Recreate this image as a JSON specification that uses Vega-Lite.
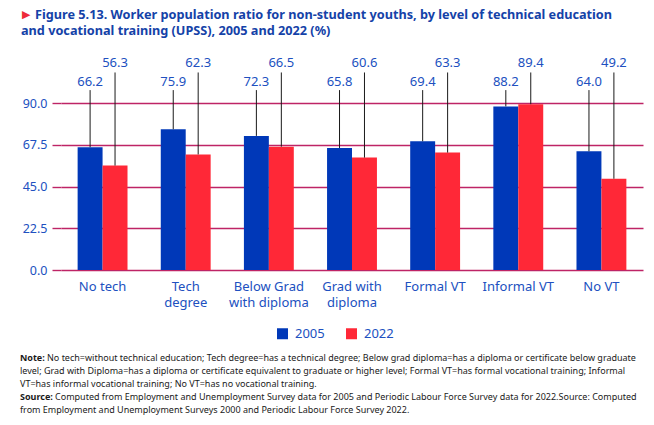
{
  "$schema": "https://vega.github.io/schema/vega-lite/v6.json",
  "padding": {"left": 20, "top": 9, "right": 5, "bottom": 5},
  "background": "white",
  "spacing": 15,
  "config": {"view": {"stroke": null}, "font": "Noto Sans"},
  "datasets": {
    "wpr": [
      {"cat": "No tech", "year": "2005", "value": 66.2},
      {"cat": "No tech", "year": "2022", "value": 56.3},
      {"cat": "Tech degree", "year": "2005", "value": 75.9},
      {"cat": "Tech degree", "year": "2022", "value": 62.3},
      {"cat": "Below Grad with diploma", "year": "2005", "value": 72.3},
      {"cat": "Below Grad with diploma", "year": "2022", "value": 66.5},
      {"cat": "Grad with diploma", "year": "2005", "value": 65.8},
      {"cat": "Grad with diploma", "year": "2022", "value": 60.6},
      {"cat": "Formal VT", "year": "2005", "value": 69.4},
      {"cat": "Formal VT", "year": "2022", "value": 63.3},
      {"cat": "Informal VT", "year": "2005", "value": 88.2},
      {"cat": "Informal VT", "year": "2022", "value": 89.4},
      {"cat": "No VT", "year": "2005", "value": 64.0},
      {"cat": "No VT", "year": "2022", "value": 49.2}
    ],
    "title": [
      {"line": 1, "text": "Figure 5.13. Worker population ratio for non-student youths, by level of technical education"},
      {"line": 2, "text": "and vocational training (UPSS), 2005 and 2022 (%)"}
    ],
    "notes": [
      {"line": 1, "lead": "Note:", "body": "No tech=without technical education; Tech degree=has a technical degree; Below grad diploma=has a diploma or certificate below graduate"},
      {"line": 2, "lead": "", "body": "level; Grad with Diploma=has a diploma or certificate equivalent to graduate or higher level; Formal VT=has formal vocational training; Informal"},
      {"line": 3, "lead": "", "body": "VT=has informal vocational training; No VT=has no vocational training."},
      {"line": 4, "lead": "Source:", "body": "Computed from Employment and Unemployment Survey data for 2005 and Periodic Labour Force Survey data for 2022.Source: Computed"},
      {"line": 5, "lead": "", "body": "from Employment and Unemployment Surveys 2000 and Periodic Labour Force Survey 2022."}
    ]
  },
  "vconcat": [
    {
      "width": 582,
      "height": 16,
      "data": {"name": "title"},
      "encoding": {
        "x": {"datum": 0, "type": "quantitative", "scale": {"domain": [0, 1]}, "axis": null},
        "y": {"field": "line", "type": "ordinal", "scale": {"type": "point", "padding": 0}, "axis": null}
      },
      "layer": [
        {
          "transform": [{"filter": "datum.line == 1"}],
          "mark": {"type": "text", "text": "▶", "font": "DejaVu Sans", "fontSize": 11, "color": "#EE2A3A", "align": "left", "baseline": "middle", "dx": -39}
        },
        {
          "transform": [{"filter": "datum.line == 1"}],
          "mark": {"type": "text", "fontSize": 12.7, "fontWeight": "bold", "color": "#1442A8", "align": "left", "baseline": "middle", "dx": -26},
          "encoding": {"text": {"field": "text", "type": "nominal"}}
        },
        {
          "transform": [{"filter": "datum.line == 2"}],
          "mark": {"type": "text", "fontSize": 12.7, "fontWeight": "bold", "color": "#1442A8", "align": "left", "baseline": "middle", "dx": -40},
          "encoding": {"text": {"field": "text", "type": "nominal"}}
        }
      ]
    },
    {
      "width": 582,
      "height": 217,
      "data": {"name": "wpr"},
      "encoding": {
        "x": {
          "field": "cat", "type": "nominal", "sort": null,
          "scale": {"paddingInner": 0.4, "paddingOuter": 0.2},
          "axis": {
            "title": null, "labelAngle": 0, "labelColor": "#2050C0", "labelFontSize": 13,
            "labelPadding": 10, "labelLineHeight": 16, "ticks": false, "domain": false,
            "labelExpr": "datum.value == 'Tech degree' ? ['Tech', 'degree'] : datum.value == 'Below Grad with diploma' ? ['Below Grad', 'with diploma'] : datum.value == 'Grad with diploma' ? ['Grad with', 'diploma'] : datum.label"
          }
        },
        "xOffset": {"field": "year", "type": "nominal", "sort": null}
      },
      "layer": [
        {
          "mark": {"type": "bar"},
          "encoding": {
            "y": {
              "field": "value", "type": "quantitative",
              "scale": {"domain": [0, 117], "nice": false},
              "axis": {
                "title": null, "values": [0, 22.5, 45, 67.5, 90], "format": ".1f",
                "grid": true, "gridColor": "#BE2466", "gridWidth": 1.4,
                "tickColor": "#BE2466", "tickSize": 9, "tickWidth": 1.4,
                "domain": false, "labelColor": "#2050C0", "labelFontSize": 12.5, "labelPadding": 5
              }
            },
            "color": {
              "field": "year", "type": "nominal",
              "scale": {"domain": ["2005", "2022"], "range": ["#0038B8", "#FF2837"]},
              "legend": {
                "title": null, "orient": "none", "legendX": 215, "legendY": 312,
                "direction": "horizontal", "symbolType": "square", "symbolSize": 121,
                "labelFontSize": 13, "labelColor": "#2050C0", "columnPadding": 20, "labelOffset": 6
              }
            }
          }
        },
        {
          "transform": [{"filter": "datum.year == '2005'"}],
          "mark": {"type": "rule", "color": "#1a1a1a", "strokeWidth": 1},
          "encoding": {"y": {"field": "value", "type": "quantitative"}, "y2": {"datum": 97}}
        },
        {
          "transform": [{"filter": "datum.year == '2022'"}],
          "mark": {"type": "rule", "color": "#1a1a1a", "strokeWidth": 1},
          "encoding": {"y": {"field": "value", "type": "quantitative"}, "y2": {"datum": 106.5}}
        },
        {
          "transform": [{"filter": "datum.year == '2005'"}],
          "mark": {"type": "text", "fontSize": 13, "color": "#2050C0", "baseline": "middle"},
          "encoding": {"y": {"datum": 101.2, "type": "quantitative"}, "text": {"field": "value", "type": "quantitative", "format": ".1f"}}
        },
        {
          "transform": [{"filter": "datum.year == '2022'"}],
          "mark": {"type": "text", "fontSize": 13, "color": "#2050C0", "baseline": "middle"},
          "encoding": {"y": {"datum": 111.8, "type": "quantitative"}, "text": {"field": "value", "type": "quantitative", "format": ".1f"}}
        }
      ]
    },
    {
      "width": 582,
      "height": 86,
      "data": {"name": "notes"},
      "encoding": {
        "x": {"datum": 0, "type": "quantitative", "scale": {"domain": [0, 1]}, "axis": null},
        "y": {"field": "line", "type": "quantitative", "scale": {"domain": [5, -1.615], "nice": false, "zero": false}, "axis": null}
      },
      "layer": [
        {
          "transform": [{"filter": "datum.lead != ''"}],
          "mark": {"type": "text", "fontSize": 9, "fontWeight": "bold", "color": "#1a1a1a", "align": "left", "baseline": "middle", "dx": -41},
          "encoding": {"text": {"field": "lead", "type": "nominal"}}
        },
        {
          "transform": [{"filter": "datum.lead == 'Note:'"}],
          "mark": {"type": "text", "fontSize": 9, "color": "#1a1a1a", "align": "left", "baseline": "middle", "dx": -14},
          "encoding": {"text": {"field": "body", "type": "nominal"}}
        },
        {
          "transform": [{"filter": "datum.lead == 'Source:'"}],
          "mark": {"type": "text", "fontSize": 9, "color": "#1a1a1a", "align": "left", "baseline": "middle", "dx": -6},
          "encoding": {"text": {"field": "body", "type": "nominal"}}
        },
        {
          "transform": [{"filter": "datum.lead == ''"}],
          "mark": {"type": "text", "fontSize": 9, "color": "#1a1a1a", "align": "left", "baseline": "middle", "dx": -41},
          "encoding": {"text": {"field": "body", "type": "nominal"}}
        }
      ]
    }
  ]
}
